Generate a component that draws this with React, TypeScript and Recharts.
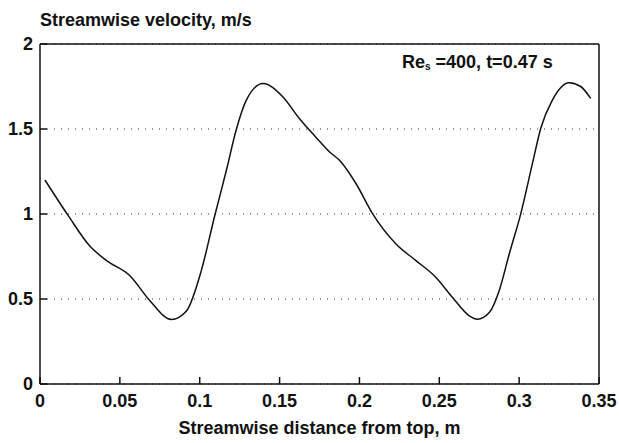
import React from 'react';
import { LineChart, Line, XAxis, YAxis, CartesianGrid, ReferenceLine } from 'recharts';

const distance = [0.0031, 0.0177, 0.0313, 0.0417, 0.0563, 0.0688, 0.0823, 0.0917, 0.101, 0.1094, 0.1167, 0.1229, 0.1292, 0.1396, 0.152, 0.1625, 0.1729, 0.1813, 0.1875, 0.1979, 0.2083, 0.2229, 0.2354, 0.2479, 0.2583, 0.2688, 0.2739, 0.2813, 0.2875, 0.2938, 0.301, 0.3083, 0.3135, 0.3208, 0.3313, 0.3385, 0.3448];
const velocity = [1.2, 0.99, 0.81, 0.726, 0.637, 0.49, 0.38, 0.43, 0.667, 0.99, 1.257, 1.497, 1.67, 1.768, 1.69, 1.56, 1.45, 1.365, 1.316, 1.178, 1.001, 0.824, 0.726, 0.627, 0.509, 0.401, 0.381, 0.42, 0.549, 0.765, 1.001, 1.296, 1.503, 1.67, 1.772, 1.75, 1.68];
const xTicks = [0, 0.05, 0.1, 0.15, 0.2, 0.25, 0.3, 0.35];
const yTicks = [0, 0.5, 1, 1.5, 2];

const data = distance.map((d, i) => ({ x: d, v: velocity[i] }));

const font = '"Liberation Sans", Arial, sans-serif';
const tickStyle = { fontFamily: font, fontSize: 18, fontWeight: 'bold', fill: '#111' };

export default function App() {
  return (
    <div style={{ position: 'absolute', left: 0, top: 0, width: 619, height: 443, background: '#fff', fontFamily: font }}>
      <LineChart width={619} height={443} data={data} margin={{ top: 44, right: 20, bottom: 0, left: 0 }}>
        <CartesianGrid vertical={false} horizontal={true} stroke="#333" strokeDasharray="1 6" />
        <XAxis
          dataKey="x"
          type="number"
          domain={[0, 0.35]}
          ticks={xTicks}
          height={59}
          tickSize={-7}
          tickMargin={17}
          stroke="#111"
          strokeWidth={1.5}
          tick={tickStyle}
          interval={0}
          allowDataOverflow
        />
        <YAxis
          type="number"
          domain={[0, 2]}
          ticks={yTicks}
          width={40}
          tickSize={-7}
          tickMargin={14}
          stroke="#111"
          strokeWidth={1.5}
          tick={tickStyle}
          interval={0}
        />
        <ReferenceLine y={2} stroke="#111" strokeWidth={1.5} />
        <ReferenceLine x={0.35} stroke="#111" strokeWidth={1.5} />
        <Line type="monotone" dataKey="v" stroke="#111" strokeWidth={1.5} dot={false} isAnimationActive={false} />
      </LineChart>
      <div style={{ position: 'absolute', left: 40, top: 9, fontSize: 18, fontWeight: 'bold', color: '#111', whiteSpace: 'nowrap', lineHeight: '22px' }}>
        Streamwise velocity, m/s
      </div>
      <div style={{ position: 'absolute', left: 40, width: 559, textAlign: 'center', top: 417, fontSize: 18, fontWeight: 'bold', color: '#111', whiteSpace: 'nowrap', lineHeight: '22px' }}>
        Streamwise distance from top, m
      </div>
      <div style={{ position: 'absolute', left: 402, top: 51, fontSize: 18, fontWeight: 'bold', color: '#111', whiteSpace: 'nowrap', lineHeight: '22px' }}>
        Re<sub style={{ fontSize: 10, verticalAlign: 'baseline', position: 'relative', top: 2 }}>s</sub> =400, t=0.47 s
      </div>
    </div>
  );
}
